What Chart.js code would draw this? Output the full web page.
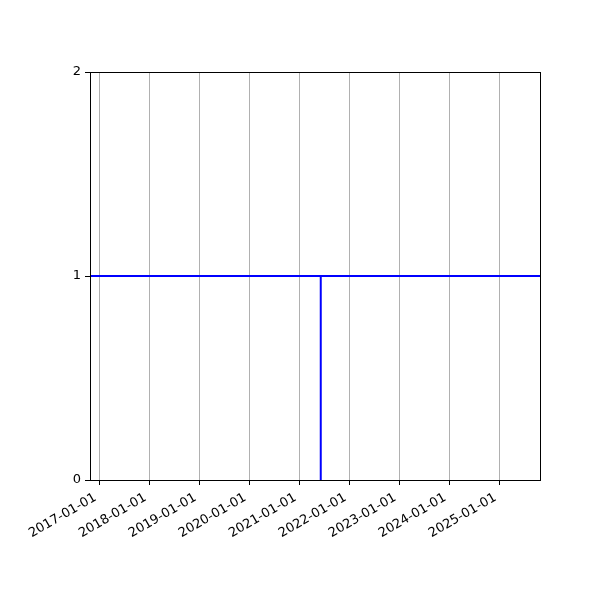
<!DOCTYPE html>
<html>
<head>
<meta charset="utf-8">
<script src="https://cdn.jsdelivr.net/npm/chart.js@4/dist/chart.umd.min.js"></script>
<style>
  body { margin: 0; background: #fff; }
</style>
</head>
<body>
<canvas id="chart" width="600" height="600"></canvas>
<script>
// data
var xLimits = ['2016-10-24', '2025-10-25'];
var tickDates = ['2017-01-01','2018-01-01','2019-01-01','2020-01-01','2021-01-01',
                 '2022-01-01','2023-01-01','2024-01-01','2025-01-01'];
var yTicks = [0, 1, 2];
var levelDates = ['2016-10-24', '2025-10-25'];
var levelValues = [1, 1];
var dropDates = ['2021-06-06', '2021-06-06'];
var dropValues = [0, 1];

function ms(d) { return Date.parse(d + 'T00:00:00Z'); }
function pts(ds, vs) { return ds.map(function(d, i){ return {x: ms(d), y: vs[i]}; }); }
function fmt(v) { return new Date(v).toISOString().slice(0, 10); }

var frame = {
  id: 'frame',
  afterDraw: function(c) {
    var a = c.chartArea, ctx = c.ctx;
    ctx.save();
    ctx.strokeStyle = '#000';
    ctx.lineWidth = 1;
    ctx.strokeRect(a.left + 0.5, a.top + 0.5, a.right - a.left, a.bottom - a.top);
    ctx.restore();
  }
};

Chart.defaults.font.family = 'DejaVu Sans';
Chart.defaults.font.size = 13;
Chart.defaults.color = '#000';

new Chart(document.getElementById('chart'), {
  type: 'line',
  data: {
    datasets: [
      { data: pts(levelDates, levelValues), borderColor: '#0000ff', borderWidth: 2, pointRadius: 0 },
      { data: pts(dropDates, dropValues), borderColor: '#0000ff', borderWidth: 2, pointRadius: 0 }
    ]
  },
  options: {
    responsive: false,
    animation: false,
    devicePixelRatio: 1,
    layout: { padding: { top: 72, right: 60, left: 0, bottom: 0 } },
    plugins: { legend: { display: false }, tooltip: { enabled: false } },
    scales: {
      x: {
        type: 'linear',
        min: ms(xLimits[0]),
        max: ms(xLimits[1]),
        afterBuildTicks: function(s) { s.ticks = tickDates.map(function(d){ return {value: ms(d)}; }); },
        afterFit: function(s) { s.height = 120; },
        ticks: { callback: function(v){ return fmt(v); }, minRotation: 30, maxRotation: 30, padding: 5, labelOffset: -4 },
        grid: { color: '#b0b0b0', lineWidth: 1, tickColor: '#000', tickLength: 5 },
        border: { color: '#000' }
      },
      y: {
        min: 0,
        max: 2,
        afterBuildTicks: function(s) { s.ticks = yTicks.map(function(v){ return {value: v}; }); },
        afterFit: function(s) { s.width = 90; },
        ticks: { padding: 4 },
        grid: { drawOnChartArea: false, tickColor: '#000', tickLength: 5 },
        border: { color: '#000' }
      }
    }
  },
  plugins: [frame]
});
</script>
</body>
</html>
